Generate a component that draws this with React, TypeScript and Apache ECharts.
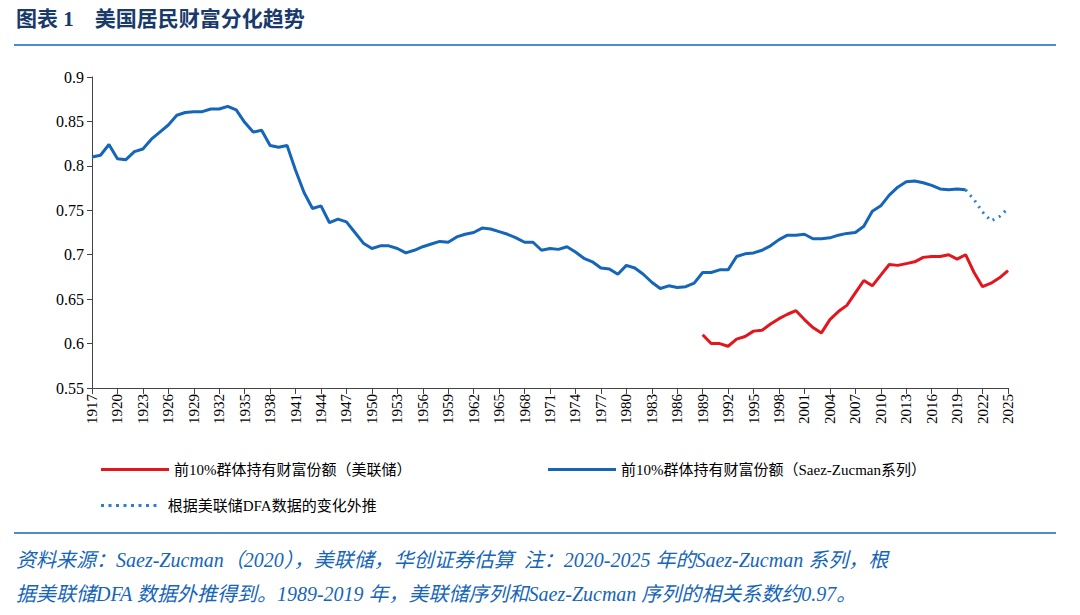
import { useEffect, useRef } from "react";
import * as echarts from "echarts";

const years: string[] = [];
for (let y = 1917; y <= 2025; y++) years.push(String(y));

// Saez-Zucman 1917-2020
const saezZucman = [
  0.81, 0.812, 0.824, 0.808, 0.807, 0.816, 0.819, 0.83, 0.838, 0.846,
  0.857, 0.86, 0.861, 0.861, 0.864, 0.864, 0.867, 0.863, 0.849, 0.838,
  0.84, 0.823, 0.821, 0.823, 0.795, 0.77, 0.752, 0.755, 0.736, 0.74,
  0.737, 0.725, 0.713, 0.707, 0.71, 0.71, 0.707, 0.702, 0.705, 0.709,
  0.712, 0.715, 0.714, 0.72, 0.723, 0.725, 0.73, 0.729, 0.726, 0.723,
  0.719, 0.714, 0.714, 0.705, 0.707, 0.706, 0.709, 0.703, 0.696, 0.692,
  0.685, 0.684, 0.678, 0.688, 0.685, 0.678, 0.669, 0.662, 0.665, 0.663,
  0.664, 0.668, 0.68, 0.68, 0.683, 0.683, 0.698, 0.701, 0.702, 0.705,
  0.71, 0.717, 0.722, 0.722, 0.723, 0.718, 0.718, 0.719, 0.722, 0.724,
  0.725, 0.732, 0.749, 0.755, 0.767, 0.776, 0.782, 0.783, 0.781, 0.778,
  0.774, 0.773, 0.774, 0.773,
];
// extrapolation 2020-2025
const extrapolated = [0.773, 0.762, 0.748, 0.738, 0.743, 0.752];
// Fed series 1989-2025
const fed = [
  0.61, 0.6, 0.6, 0.597, 0.605, 0.608, 0.614, 0.615, 0.622, 0.628,
  0.633, 0.637, 0.627, 0.618, 0.612, 0.627, 0.636, 0.643, 0.657, 0.671,
  0.665, 0.677, 0.689, 0.688, 0.69, 0.692, 0.697, 0.698, 0.698, 0.7,
  0.695, 0.7, 0.68, 0.664, 0.668, 0.674, 0.682,
];

const pad = (arr: number[], startYear: number) =>
  years.map((y) => {
    const i = Number(y) - startYear;
    return i >= 0 && i < arr.length ? arr[i] : null;
  });

const FONT = "'Liberation Serif', 'DejaVu Serif', 'Noto Sans CJK SC', serif";
const RED = "#e3161d";
const BLUE = "#1565b8";

export default function App() {
  const ref = useRef<HTMLDivElement | null>(null);
  useEffect(() => {
    if (!ref.current) return;
    const chart = echarts.init(ref.current, undefined, { renderer: "svg" });
    const legendBase = {
      itemWidth: 68,
      itemHeight: 3,
      icon: "rect",
      textStyle: { fontFamily: FONT, fontSize: 15, color: "#000" },
      orient: "horizontal" as const,
    };
    chart.setOption({
      animation: false,
      textStyle: { fontFamily: FONT },
      grid: { left: 92, right: 72, top: 77, bottom: 227 },
      legend: [
        { ...legendBase, left: 96, top: 457, data: ["前10%群体持有财富份额（美联储）"] },
        { ...legendBase, left: 543, top: 457, data: ["前10%群体持有财富份额（Saez-Zucman系列）"] },
        {
          ...legendBase,
          icon: "path://M0,0h2v2h-2zM5,0h2v2h-2zM10,0h2v2h-2zM15,0h2v2h-2zM20,0h2v2h-2zM25,0h2v2h-2zM30,0h2v2h-2zM35,0h2v2h-2z",
          left: 96,
          top: 493,
          data: ["根据美联储DFA数据的变化外推"],
        },
      ],
      xAxis: {
        type: "category",
        data: years,
        boundaryGap: false,
        axisLine: { lineStyle: { color: "#444" } },
        axisTick: { interval: 2, length: 6, lineStyle: { color: "#444" } },
        axisLabel: { interval: 2, rotate: 90, fontSize: 15, color: "#000", fontFamily: FONT, margin: 6 },
      },
      yAxis: {
        type: "value",
        min: 0.55,
        max: 0.9,
        interval: 0.05,
        splitLine: { show: false },
        axisLine: { show: true, lineStyle: { color: "#444" } },
        axisTick: { show: true, inside: false, length: 5, lineStyle: { color: "#444" } },
        axisLabel: {
          fontSize: 16,
          color: "#000",
          fontFamily: FONT,
          formatter: (v: number) => String(Number(v.toFixed(2))),
        },
      },
      series: [
        {
          name: "前10%群体持有财富份额（美联储）",
          type: "line",
          data: pad(fed, 1989),
          showSymbol: false,
          lineStyle: { color: RED, width: 3 },
          itemStyle: { color: RED },
        },
        {
          name: "前10%群体持有财富份额（Saez-Zucman系列）",
          type: "line",
          data: pad(saezZucman, 1917),
          showSymbol: false,
          lineStyle: { color: BLUE, width: 3 },
          itemStyle: { color: BLUE },
        },
        {
          name: "根据美联储DFA数据的变化外推",
          type: "line",
          data: pad(extrapolated, 2020),
          showSymbol: false,
          lineStyle: { color: "#2a7fd0", width: 3, type: [2, 5] },
          itemStyle: { color: "#2a7fd0" },
        },
      ],
      graphic: [
        {
          type: "text",
          left: 16,
          top: 8,
          style: { text: "图表 1    美国居民财富分化趋势", font: `bold 21px ${FONT}`, fill: "#1a3a6b" },
        },
        { type: "line", shape: { x1: 14, y1: 45, x2: 1056, y2: 45 }, style: { stroke: BLUE, lineWidth: 1.5 } },
        { type: "line", shape: { x1: 14, y1: 533, x2: 1056, y2: 533 }, style: { stroke: BLUE, lineWidth: 1.5 } },
        {
          type: "text",
          left: 16,
          top: 543,
          style: {
            text: "资料来源：Saez-Zucman（2020），美联储，华创证券估算  注：2020-2025 年的Saez-Zucman 系列，根\n据美联储DFA 数据外推得到。1989-2019 年，美联储序列和Saez-Zucman 序列的相关系数约0.97。",
            font: `italic 20px ${FONT}`,
            lineHeight: 34,
            fill: BLUE,
          },
        },
      ],
    });
    return () => chart.dispose();
  }, []);
  return (
    <div
      ref={ref}
      style={{ position: "fixed", left: 0, top: 0, width: 1080, height: 615, background: "#fff" }}
    />
  );
}
